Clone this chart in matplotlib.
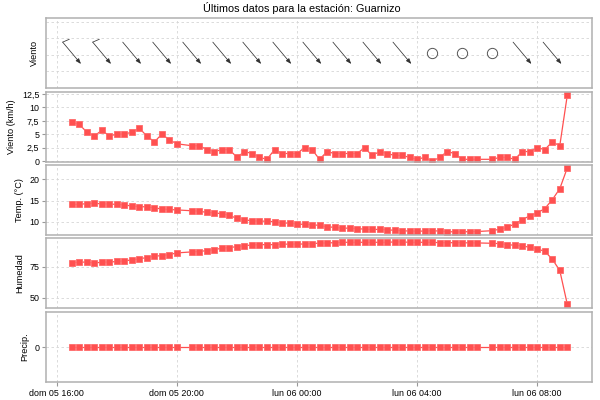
import numpy as np
import pandas as pd
import matplotlib
matplotlib.use("Agg")
import matplotlib.pyplot as plt
import matplotlib.dates as mdates
import matplotlib.transforms as mtransforms
from matplotlib.ticker import FuncFormatter

plt.rcParams['font.family'] = ['Liberation Sans', 'DejaVu Sans']

nan = np.nan

# --- datos cada 15 minutos, dom 05 16:30 -> lun 06 09:00 ---
times = pd.date_range("2024-05-05 16:30", periods=67, freq="15min")

viento_kmh = [7.2, 6.84, 5.4, 4.68, 5.76, 4.68, 5.04, 5.04, 5.4, 6.12, 4.68, 3.6, 5.04, 3.96, 3.24,
              nan,
              2.88, 2.88, 2.16, 1.8, 2.16, 2.16, 0.72, 1.8, 1.44, 0.72, 0.36, 2.16, 1.44, 1.44, 1.44,
              2.52, 2.16, 0.36,
              1.8, 1.44, 1.44, 1.44, 1.44, 2.52, 1.08, 1.8, 1.44, 1.08, 1.08, 0.72, 0.36, 0.72, 0.0,
              0.72, 1.8, 1.44, 0.36, 0.36, 0.36,
              nan,
              0.36, 0.72, 0.72, 0.36, 1.8, 1.8, 2.52, 2.16, 3.6, 2.88, 12.24]

temperatura = [14.1, 14.1, 14.3, 14.4, 14.2, 14.2, 14.1, 14.0, 13.7, 13.6, 13.5, 13.3, 13.0, 12.9, 12.8,
               nan,
               12.6, 12.5, 12.2, 12.1, 11.9, 11.5, 10.8, 10.5, 10.2, 10.15, 10.15, 10.0, 9.7, 9.7,
               9.45, 9.4, 9.3, 9.15,
               8.8, 8.7, 8.5, 8.5, 8.4, 8.25, 8.2, 8.2, 8.1, 8.0, 7.9, 7.8, 7.8, 7.8, 7.9, 7.8,
               7.7, 7.6, 7.6, 7.7, 7.7,
               nan,
               7.9, 8.25, 8.7, 9.5, 10.5, 11.4, 12.1, 13.1, 15.2, 17.8, 22.7]

humedad = [78.2, 78.8, 78.8, 78.0, 78.8, 78.8, 79.3, 79.8, 80.6, 81.5, 82.5, 83.6, 84.1, 84.9, 86.3,
           nan,
           87.1, 87.4, 88.2, 89.0, 90.1, 90.6, 91.4, 92.2, 92.7, 93.0, 93.0, 93.0, 93.3, 93.5,
           93.5, 93.5, 93.9, 94.2,
           94.4, 94.6, 94.9, 94.9, 94.9, 94.9, 94.9, 94.9, 94.9, 95.2, 95.2, 94.9, 94.9, 94.9,
           94.9, 94.6, 94.6, 94.6, 94.6, 94.4, 94.4,
           nan,
           94.1, 93.8, 93.0, 92.5, 91.9, 90.9, 89.5, 87.6, 81.2, 72.0, 44.6]

precipitacion = [0, 0, 0, 0, 0, 0, 0, 0, 0, 0, 0, 0, 0, 0, 0,
                 nan,
                 0, 0, 0, 0, 0, 0, 0, 0, 0, 0, 0, 0, 0, 0, 0, 0, 0, 0,
                 0, 0, 0, 0, 0, 0, 0, 0, 0, 0, 0, 0, 0, 0, 0, 0, 0, 0, 0, 0, 0,
                 nan,
                 0, 0, 0, 0, 0, 0, 0, 0, 0, 0, 0]

# --- direccion del viento cada hora (None = calma) ---
horas = pd.date_range("2024-05-05 16:30", periods=17, freq="60min")
direccion = [320, 320, 320, 320, 320, 320, 320, 320, 320, 320, 320, 320,
             None, None, None, 320, 320]
barbas = [1, 1, 0, 0, 0, 0, 0, 0, 0, 0, 0, 0, 0, 0, 0, 0, 0]

ROJO = "#ff5050"
GRIS = "#b0b0b0"
DIAS = ["lun", "mar", "mié", "jue", "vie", "sáb", "dom"]


def fmt_fecha(x, pos=None):
    d = mdates.num2date(x)
    return f"{DIAS[d.weekday()]} {d:%d %H:%M}"


def coma(v, pos=None):
    s = f"{v:g}"
    return s.replace(".", ",")


fig = plt.figure(figsize=(6, 4), dpi=100)
W, H = 600.0, 400.0
izq, der = 46.3, 592.3
tops = [18.3, 92.3, 165.0, 238.0, 312.3]
alto = 69.5
axes = [fig.add_axes([izq / W, 1 - (t + alto) / H, (der - izq) / W, alto / H]) for t in tops]

x0 = mdates.date2num(pd.Timestamp("2024-05-05 15:39"))
x1 = mdates.date2num(pd.Timestamp("2024-05-06 09:50"))

for ax in axes:
    ax.set_xlim(x0, x1)
    ax.xaxis.set_major_locator(mdates.HourLocator(byhour=[0, 4, 8, 12, 16, 20]))
    ax.xaxis.set_major_formatter(FuncFormatter(fmt_fecha))
    for s in ax.spines.values():
        s.set_color(GRIS)
        s.set_linewidth(1.1)
    ax.grid(True, color="#d6d6d6", linestyle=(0, (3, 3)), linewidth=0.6)
    ax.set_axisbelow(True)
    ax.tick_params(axis="both", labelsize=6.4, length=3, color="#999999", pad=2)
    if ax is not axes[-1]:
        ax.tick_params(axis="x", length=0, labelbottom=False)


def serie(ax, valores):
    y = np.array(valores, dtype=float)
    m = ~np.isnan(y)
    ax.plot(times[m], y[m], color=ROJO, lw=0.9, marker="s", ms=5,
            mec="#ff6a6a", mew=0.6)


# panel 1: flechas de direccion
ax = axes[0]
ax.set_ylim(0, 4.2)
ax.set_yticks([1, 2, 3, 4])
ax.tick_params(axis="y", length=0, labelleft=False)
ax.set_ylabel("Viento", fontsize=6.6, labelpad=5)
L = 10.25  # media longitud en puntos
for t, d, b in zip(horas, direccion, barbas):
    x = mdates.date2num(t)
    if d is None:
        ax.plot(x, 2.1, "o", mfc="none", mec="#555555", ms=7.4, mew=0.7)
        continue
    a = np.radians(d + 180)
    ux, uy = np.sin(a), np.cos(a)
    cab = mtransforms.offset_copy(ax.transData, fig=fig, x=L * ux, y=L * uy, units="points")
    col = mtransforms.offset_copy(ax.transData, fig=fig, x=-L * ux, y=-L * uy, units="points")
    ax.annotate("", xy=(x, 2.1), xycoords=cab, xytext=(x, 2.1), textcoords=col,
                arrowprops=dict(arrowstyle="-|>,head_length=0.32,head_width=0.12",
                                lw=0.55, color="#333333", shrinkA=0, shrinkB=0,
                                mutation_scale=10))
    if b:
        r = np.radians(73.5)
        bx = ux * np.cos(r) - uy * np.sin(r)
        by = ux * np.sin(r) + uy * np.cos(r)
        fin = mtransforms.offset_copy(ax.transData, fig=fig, x=-L * ux + 5.2 * bx,
                                      y=-L * uy + 5.2 * by, units="points")
        ax.annotate("", xy=(x, 2.1), xycoords=fin, xytext=(x, 2.1), textcoords=col,
                    arrowprops=dict(arrowstyle="-", lw=0.55, color="#333333",
                                    shrinkA=0, shrinkB=0))

# panel 2: velocidad
ax = axes[1]
serie(ax, viento_kmh)
ax.set_ylim(-0.1, 12.8)
ax.set_yticks([0, 2.5, 5, 7.5, 10, 12.5])
ax.yaxis.set_major_formatter(FuncFormatter(coma))
ax.set_ylabel("Viento (km/h)", fontsize=6.6, labelpad=4)

# panel 3: temperatura
ax = axes[2]
serie(ax, temperatura)
ax.set_ylim(7.0, 23.4)
ax.set_yticks([10, 15, 20])
ax.set_ylabel("Temp. (°C)", fontsize=6.6, labelpad=4)

# panel 4: humedad
ax = axes[3]
serie(ax, humedad)
ax.set_ylim(41.9, 98.4)
ax.set_yticks([50, 75])
ax.set_ylabel("Humedad", fontsize=6.6, labelpad=4)

# panel 5: precipitacion
ax = axes[4]
serie(ax, precipitacion)
ax.set_ylim(-1, 1)
ax.set_yticks([0])
ax.set_ylabel("Precip.", fontsize=6.6, labelpad=4)

fig.text(0.503, 1 - 8.5 / H, "Últimos datos para la estación: Guarnizo",
         ha="center", va="center", fontsize=7.8)

fig.savefig("out.png", dpi=100)
